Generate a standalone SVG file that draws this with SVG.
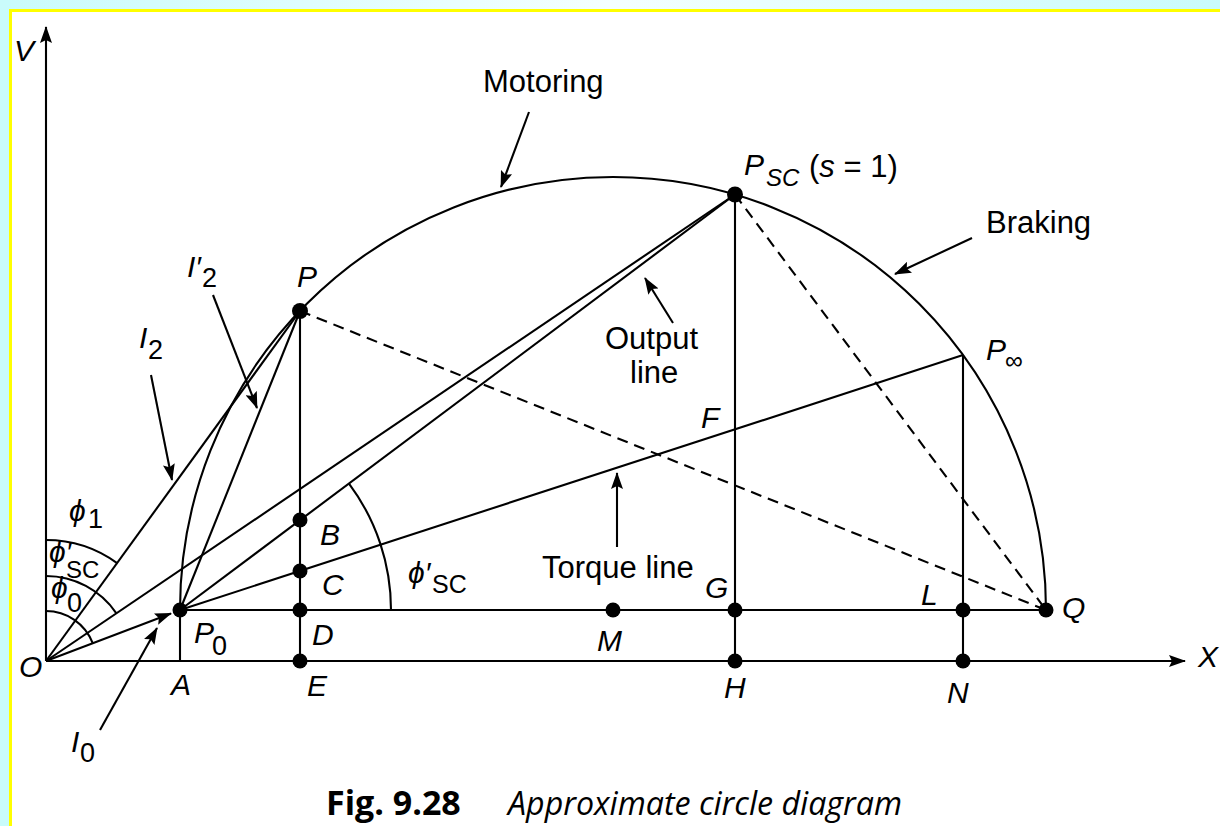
<svg xmlns="http://www.w3.org/2000/svg" width="1220" height="826" viewBox="0 0 1220 826">
<style>
.ln{stroke:#000;stroke-width:2.1;fill:none}
.ds{stroke:#000;stroke-width:2.1;fill:none;stroke-dasharray:11 7}
.dot{fill:#000}
text{font-family:"Liberation Sans","DejaVu Sans",Arial,sans-serif;fill:#000}
.it{font-style:italic;font-size:30px}
.wd{font-size:31px}
.sb{font-size:27px}
.cap{font-family:"Open Sans","Lato",sans-serif;font-size:32px}
</style>
<defs>
<marker id="ah" markerUnits="userSpaceOnUse" markerWidth="18" markerHeight="12" refX="16" refY="6" orient="auto">
<path d="M0,0 L17,6 L0,12 L3,6 z" fill="#000"/>
</marker>
<linearGradient id="bg" x1="0" y1="0" x2="1" y2="0">
<stop offset="0" stop-color="#c9fbfb"/>
<stop offset="0.5" stop-color="#f4ffff"/>
<stop offset="1" stop-color="#c9fbfb"/>
</linearGradient>
</defs>
<rect x="0" y="0" width="1220" height="826" fill="url(#bg)"/>
<rect x="0" y="0" width="11" height="826" fill="#c9fbfb"/>
<rect x="10.5" y="10.5" width="1220" height="826" fill="#fff" stroke="#ff0" stroke-width="3"/>

<g id="connectors">
<line class="ln" x1="46" y1="661" x2="46" y2="27" marker-end="url(#ah)"/>
<line class="ln" x1="46" y1="661" x2="1185" y2="661" marker-end="url(#ah)"/>
<path class="ln" d="M180,610 A433,433 0 0 1 1046,610"/>
<line class="ln" x1="180" y1="610" x2="1046" y2="610"/>
<line class="ln" x1="46" y1="661" x2="300" y2="311"/>
<line class="ln" x1="46" y1="661" x2="735" y2="194.5"/>
<line class="ln" x1="46" y1="661" x2="171" y2="613.4" marker-end="url(#ah)"/>
<line class="ln" x1="180" y1="610" x2="300" y2="311"/>
<line class="ln" x1="180" y1="610" x2="735" y2="194.5"/>
<line class="ln" x1="180" y1="610" x2="963" y2="355.1"/>
<line class="ln" x1="180" y1="610" x2="180" y2="661"/>
<line class="ln" x1="300" y1="311" x2="300" y2="661"/>
<line class="ln" x1="735" y1="194.5" x2="735" y2="661"/>
<line class="ln" x1="963" y1="355.1" x2="963" y2="661"/>
<line class="ds" x1="300" y1="311" x2="1046" y2="610"/>
<line class="ds" x1="735" y1="194.5" x2="1046" y2="610"/>
<path class="ln" d="M46,540 A121,121 0 0 1 117.1,563.1"/>
<path class="ln" d="M46,576 A85,85 0 0 1 116.4,613.3"/>
<path class="ln" d="M46,611 A50,50 0 0 1 92.7,643.2"/>
<path class="ln" d="M391,610 A211,211 0 0 0 349,483.6"/>
<line class="ln" x1="529" y1="112" x2="501" y2="187" marker-end="url(#ah)"/>
<line class="ln" x1="972" y1="238" x2="895" y2="274" marker-end="url(#ah)"/>
<line class="ln" x1="673" y1="323" x2="645" y2="278" marker-end="url(#ah)"/>
<line class="ln" x1="617" y1="547" x2="617" y2="473" marker-end="url(#ah)"/>
<path class="ln" d="M151,375 Q160,420 172,480" marker-end="url(#ah)"/>
<line class="ln" x1="213" y1="295" x2="257" y2="408" marker-end="url(#ah)"/>
<line class="ln" x1="100" y1="730" x2="157" y2="628" marker-end="url(#ah)"/>
</g>

<g id="node-P0"><circle class="dot" cx="180" cy="610" r="7.5"/><text class="it" x="194" y="643">P</text><text class="sb" x="212" y="655">0</text></g>
<g id="node-P"><circle class="dot" cx="300" cy="311" r="8"/><text class="it" x="297" y="287">P</text></g>
<g id="node-B"><circle class="dot" cx="300" cy="520" r="7.5"/><text class="it" x="320" y="545">B</text></g>
<g id="node-C"><circle class="dot" cx="300" cy="571" r="7.5"/><text class="it" x="322" y="595">C</text></g>
<g id="node-D"><circle class="dot" cx="300" cy="610" r="7.5"/><text class="it" x="312" y="645">D</text></g>
<g id="node-E"><circle class="dot" cx="300" cy="661" r="7.5"/><text class="it" x="307" y="696">E</text></g>
<g id="node-M"><circle class="dot" cx="613" cy="610" r="7.5"/><text class="it" x="597" y="651">M</text></g>
<g id="node-G"><circle class="dot" cx="735" cy="610" r="7.5"/><text class="it" x="705" y="598">G</text></g>
<g id="node-H"><circle class="dot" cx="735" cy="661" r="7.5"/><text class="it" x="724" y="698">H</text></g>
<g id="node-L"><circle class="dot" cx="963" cy="610" r="7.5"/><text class="it" x="921" y="605">L</text></g>
<g id="node-N"><circle class="dot" cx="963" cy="661" r="7.5"/><text class="it" x="947" y="703">N</text></g>
<g id="node-Q"><circle class="dot" cx="1046" cy="610" r="7.5"/><text class="it" x="1062" y="618">Q</text></g>
<g id="node-PSC"><circle class="dot" cx="735" cy="194.5" r="8"/><text class="it" x="744" y="175">P</text><text class="it" style="font-size:24px" x="766" y="186">SC</text><text class="wd" x="809" y="177">(<tspan font-style="italic">s</tspan> = 1)</text></g>
<g id="node-Pinf"><text class="it" x="986" y="360">P</text><text style="font-size:25px" x="1005" y="369">∞</text></g>
<g id="node-F"><text class="it" x="701" y="428">F</text></g>
<g id="node-O"><text class="it" x="19" y="677">O</text></g>
<g id="node-A"><text class="it" x="171" y="695">A</text></g>
<g id="node-V"><text class="it" x="14" y="61">V</text></g>
<g id="node-X"><text class="it" x="1198" y="667">X</text></g>

<g id="labels">
<text class="wd" x="483" y="92">Motoring</text>
<text class="wd" x="986" y="233">Braking</text>
<text class="wd" x="605" y="349">Output</text>
<text class="wd" x="630" y="383">line</text>
<text class="wd" x="542" y="578">Torque line</text>
<text class="it" x="187" y="277">I′</text><text class="sb" x="202" y="287">2</text>
<text class="it" x="139" y="348">I</text><text class="sb" x="148" y="359">2</text>
<text class="it" x="71" y="752">I</text><text class="sb" x="80" y="762">0</text>
<text class="it" x="69" y="521">ϕ</text><text class="sb" x="88" y="528">1</text>
<text class="it" x="49" y="562">ϕ′</text><text style="font-size:24px" x="66" y="578">SC</text>
<text class="it" x="51" y="598">ϕ</text><text class="sb" x="67" y="612">0</text>
<text class="it" x="408" y="583">ϕ′</text><text style="font-size:25px" x="432" y="593">SC</text>
</g>

<g id="caption">
<text class="cap" x="326" y="815" font-weight="bold" style="font-size:34px">Fig. 9.28</text>
<text class="cap" x="508" y="815" font-style="italic" textLength="394" lengthAdjust="spacingAndGlyphs">Approximate circle diagram</text>
</g>
</svg>
